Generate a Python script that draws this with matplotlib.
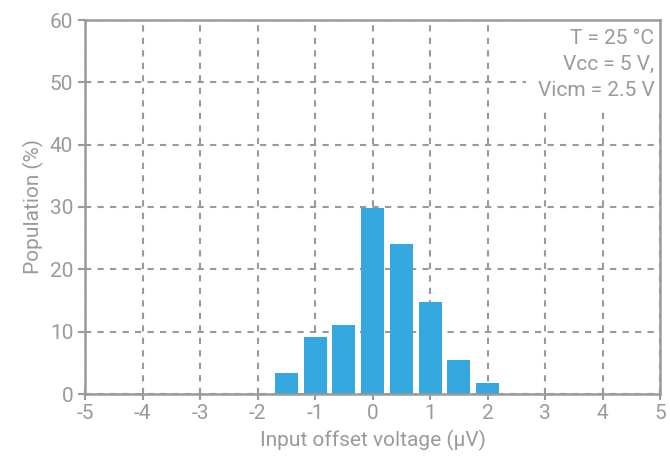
import matplotlib
matplotlib.use("Agg")
import matplotlib.pyplot as plt

plt.rcParams['font.family'] = ['Roboto', 'DejaVu Sans']

centers = [-1.5, -1.0, -0.5, 0.0, 0.5, 1.0, 1.5, 2.0]
population = [3.4, 9.2, 11.1, 29.9, 24.1, 14.8, 5.5, 1.8]
xticks = [-5, -4, -3, -2, -1, 0, 1, 2, 3, 4, 5]
yticks = [0, 10, 20, 30, 40, 50, 60]
conditions = "T = 25 °C\nVcc = 5 V,\nVicm = 2.5 V"

gray = '#9a9a9a'
blue = '#35a8e0'

fig = plt.figure(figsize=(6.7, 4.61), dpi=100)
ax = fig.add_axes([85/670, (461-394)/461, (660-85)/670, (394-20)/461])

ax.bar(centers, population, width=0.4, color=blue, zorder=3)
ax.set_xlim(-5, 5)
ax.set_ylim(0, 60)
ax.set_xticks(xticks)
ax.set_yticks(yticks)
ax.set_xticklabels([str(t) for t in xticks])
ax.grid(True, color=gray, linestyle=(0, (3, 3)), linewidth=1.5, zorder=1)
for s in ax.spines.values():
    s.set_color(gray)
    s.set_linewidth(1.8)
    s.set_zorder(4)
ax.tick_params(axis='both', colors=gray, labelcolor=gray, labelsize=15,
               width=1.5, length=5)
ax.tick_params(axis='x', direction='inout', length=8)
ax.set_xlabel('Input offset voltage (µV)', color=gray, fontsize=15, labelpad=5)
ax.set_ylabel('Population (%)', color=gray, fontsize=15, labelpad=4)

ax.text(0.99, 0.975, conditions, transform=ax.transAxes, ha='right', va='top',
        fontsize=15, color=gray, linespacing=1.45, zorder=3.5,
        bbox=dict(facecolor='white', edgecolor='none', pad=8))

fig.savefig('out.png', dpi=100)
